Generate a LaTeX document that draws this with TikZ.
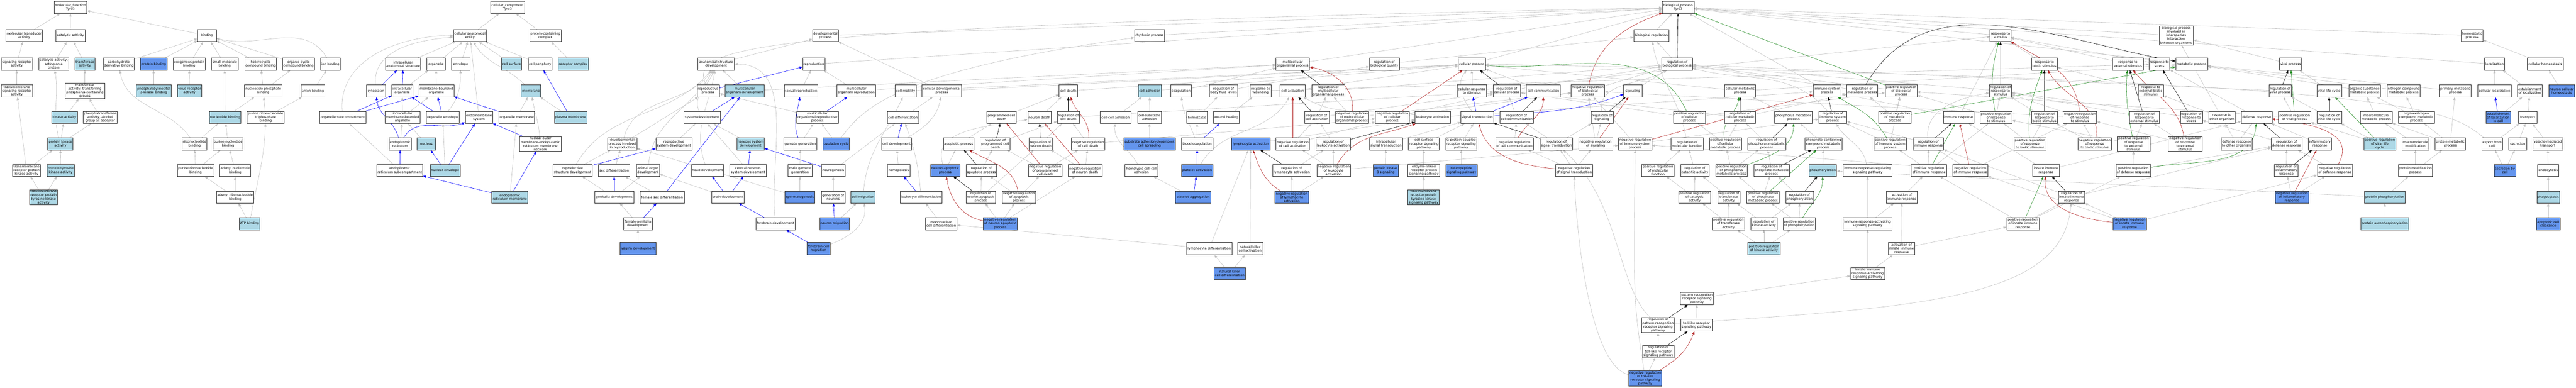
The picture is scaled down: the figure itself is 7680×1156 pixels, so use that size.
\documentclass[tikz,border=0pt]{standalone}
\usepackage{fontspec}
\setmainfont{DejaVu Sans}
\usetikzlibrary{arrows.meta}
\pgfdeclarelayer{bgw}
\pgfdeclarelayer{edges}
\pgfsetlayers{bgw,edges,main}
\definecolor{lblue}{HTML}{ADD8E6}
\definecolor{cblue}{HTML}{6495ED}
\definecolor{egray}{HTML}{C0C0C0}
\definecolor{ered}{HTML}{B22222}
\definecolor{egreen}{HTML}{228B22}
\tikzset{
 box/.style={draw=black!80, line width=0.9pt, rectangle, fill=white, minimum height=36pt,
   inner xsep=2pt, inner ysep=1.5pt, align=center, font=\fontsize{9.7}{11}\selectfont},
 lb/.style={fill=lblue}, cb/.style={fill=cblue},
 ge/.style={draw=egray, line width=0.9pt, -{Triangle[length=9pt,width=7pt]}},
 be/.style={ge, draw=blue},
 ke/.style={ge, draw=black},
 re/.style={ge, draw=ered},
 gre/.style={ge, draw=egreen}
}
\newcommand\nd[6][]{\node[box,#1,minimum width=#5pt] (#2) at (#3,-#4) {#6};}
\newcommand\Ed[3][ge]{\draw[#1] (#2) -- (#3);}
\begin{document}
\begin{tikzpicture}[x=1pt,y=1pt]
\begin{pgfonlayer}{bgw}
\fill[white] (0,0) rectangle (7680,-1156);
\end{pgfonlayer}
\useasboundingbox (0,0) rectangle (7680,-1156);
% ---------------- molecular function
\nd{mf}{210}{22}{98}{molecular\_function\\Tyro3}
\nd{mtrans}{72}{106}{109}{molecular transducer\\activity}
\nd{cat}{210}{106}{87}{catalytic activity}
\nd{binding}{617}{106}{56}{binding}
\nd{sigrec}{50}{191}{94}{signaling receptor\\activity}
\nd{catprot}{160}{191}{89}{catalytic activity,\\acting on a\\protein}
\nd[lb]{transf}{253}{191}{60}{transferase\\activity}
\nd{carb}{354}{191}{93}{carbohydrate\\derivative binding}
\nd[cb]{protbind}{458}{191}{79}{protein binding}
\nd{exoprot}{564}{191}{94}{exogenous protein\\binding}
\nd{smallmol}{670}{191}{80}{small molecule\\binding}
\nd{hetero}{777}{191}{95}{heterocyclic\\compound binding}
\nd{orgcyc}{890}{191}{95}{organic cyclic\\compound binding}
\nd{ion}{985}{191}{59}{ion binding}
\nd{tmsig}{50}{271}{94}{transmembrane\\signaling receptor\\activity}
\nd{transphos}{253}{271}{117}{transferase\\activity, transferring\\phosphorus-containing\\groups}
\nd[lb]{pi3k}{458}{271}{105}{phosphatidylinositol\\3-kinase binding}
\nd[lb]{virrec}{565}{271}{72}{virus receptor\\activity}
\nd{nucphos}{785}{271}{112}{nucleoside phosphate\\binding}
\nd{anion}{933}{271}{71}{anion binding}
\nd[lb]{kinase}{192}{350}{77}{kinase activity}
\nd{phostrans}{299}{350}{101}{phosphotransferase\\activity, alcohol\\group as acceptor}
\nd[lb]{nucbind}{671}{350}{95}{nucleotide binding}
\nd{purribtri}{792}{350}{111}{purine ribonucleoside\\triphosphate\\binding}
\nd[lb]{protkin}{180}{429}{75}{protein kinase\\activity}
\nd{ribonuc}{580}{429}{74}{ribonucleotide\\binding}
\nd{purnuc}{680}{429}{89}{purine nucleotide\\binding}
\nd{tmrpk}{79}{508}{83}{transmembrane\\receptor protein\\kinase activity}
\nd[lb]{ptk}{181}{508}{82}{protein tyrosine\\kinase activity}
\nd{purribonuc}{583}{508}{109}{purine ribonucleotide\\binding}
\nd{adenyl}{701}{508}{93}{adenyl nucleotide\\binding}
\nd[lb]{tmrptk}{130}{588}{83}{transmembrane\\receptor protein\\tyrosine kinase\\activity}
\nd{adenylribo}{701}{588}{109}{adenyl ribonucleotide\\binding}
\nd[lb]{atp}{744}{667}{62}{ATP binding}
% ---------------- cellular component
\nd{cc}{1513}{22}{101}{cellular\_component\\Tyro3}
\nd{cae}{1401}{106}{99}{cellular anatomical\\entity}
\nd{pcc}{1626}{106}{94}{protein-containing\\complex}
\nd{ias}{1202}{191}{105}{intracellular\\anatomical structure}
\nd{organelle}{1300}{191}{55}{organelle}
\nd{envelope}{1373}{191}{55}{envelope}
\nd[lb]{cellsurf}{1525}{191}{61}{cell surface}
\nd{cellperiph}{1610}{191}{71}{cell periphery}
\nd[lb]{reccomplex}{1709}{191}{91}{receptor complex}
\nd{cytoplasm}{1121}{271}{58}{cytoplasm}
\nd{intorg}{1199}{271}{63}{intracellular\\organelle}
\nd{mbo}{1301}{271}{105}{membrane-bounded\\organelle}
\nd[lb]{membrane}{1583}{271}{58}{membrane}
\nd{orgsub}{1022}{350}{138}{organelle subcompartment}
\nd{imbo}{1200}{350}{104}{intracellular\\membrane-bounded\\organelle}
\nd{orgenv}{1320}{350}{98}{organelle envelope}
\nd{endomem}{1428}{350}{82}{endomembrane\\system}
\nd{orgmem}{1541}{350}{106}{organelle membrane}
\nd[lb]{plasmamem}{1701}{350}{97}{plasma membrane}
\nd{er}{1193}{429}{66}{endoplasmic\\reticulum}
\nd[lb]{nucleus}{1271}{429}{55}{nucleus}
\nd{nomer}{1611}{429}{125}{nuclear outer\\membrane-endoplasmic\\reticulum membrane\\network}
\nd{ersub}{1192}{508}{136}{endoplasmic\\reticulum subcompartment}
\nd[lb]{nucenv}{1327}{508}{89}{nuclear envelope}
\nd[lb]{ermem}{1520}{588}{107}{endoplasmic\\reticulum membrane}
% ---------------- development
\nd{asd}{2135}{191}{109}{anatomical structure\\development}
\nd{reproproc}{2111}{271}{66}{reproductive\\process}
\nd[lb]{mcod}{2220}{271}{118}{multicellular\\organism development}
\nd{sysdev}{2093}{350}{108}{system development}
\nd{dpir}{1855}{429}{87}{developmental\\process involved\\in reproduction}
\nd{rsd}{2009}{429}{108}{reproductive\\system development}
\nd[lb]{nsd}{2238}{429}{82}{nervous system\\development}
\nd{reprostruct}{1707}{508}{117}{reproductive\\structure development}
\nd{sexdiff}{1831}{508}{94}{sex differentiation}
\nd{animalorgan}{1932}{508}{68}{animal organ\\development}
\nd{headdev}{2109}{508}{96}{head development}
\nd{cnsd}{2230}{508}{110}{central nervous\\system development}
\nd{genitalia}{1831}{588}{116}{genitalia development}
\nd{femsexdiff}{1974}{588}{131}{female sex differentiation}
\nd{braindev}{2170}{588}{98}{brain development}
\nd{femgen}{1902}{667}{85}{female genitalia\\development}
\nd[cb]{vagina}{1902}{741}{106}{vagina development}
\nd{forebrain}{2312}{667}{117}{forebrain development}
\nd{devproc}{2461}{106}{78}{developmental\\process}
\nd{reproduction}{2426}{191}{66}{reproduction}
\nd{sexrepro}{2388}{271}{101}{sexual reproduction}
\nd{mcorepro}{2553}{271}{115}{multicellular\\organism reproduction}
\nd{cellmot}{2700}{271}{62}{cell motility}
\nd{celldevproc}{2808}{271}{118}{cellular developmental\\process}
\nd{celldeath}{3185}{271}{55}{cell death}
\nd{mcorp}{2437}{350}{124}{multicellular\\organismal reproductive\\process}
\nd{celldiff}{2692}{350}{94}{cell differentiation}
\nd{pcd}{2986}{350}{88}{programmed cell\\death}
\nd{neurondeath}{3099}{350}{68}{neuron death}
\nd{regcelldeath}{3185}{350}{66}{regulation of\\cell death}
\nd{cellcelladh}{3326}{350}{91}{cell-cell adhesion}
\nd{gametegen}{2386}{429}{98}{gamete generation}
\nd[cb]{ovulation}{2493}{429}{78}{ovulation cycle}
\nd{celldev}{2673}{429}{89}{cell development}
\nd{apoptotic}{2858}{429}{90}{apoptotic process}
\nd{regpcd}{2967}{429}{89}{regulation of\\programmed cell\\death}
\nd{regneurondeath}{3102}{429}{68}{regulation of\\neuron death}
\nd{negregcelldeath}{3244}{429}{100}{negative regulation\\of cell death}
\nd{malegamete}{2385}{508}{71}{male gamete\\generation}
\nd{neurogenesis}{2484}{508}{70}{neurogenesis}
\nd{hemopoiesis}{2679}{508}{67}{hemopoiesis}
\nd[cb]{neuronapop}{2818}{508}{87}{neuron apoptotic\\process}
\nd{regapop}{2926}{508}{91}{regulation of\\apoptotic process}
\nd{negregpcd}{3116}{508}{100}{negative regulation\\of programmed\\cell death}
\nd{negregneurondeath}{3235}{508}{101}{negative regulation\\of neuron death}
\nd[cb]{spermato}{2385}{588}{89}{spermatogenesis}
\nd{genneurons}{2484}{588}{70}{generation of\\neurons}
\nd[lb]{cellmigr}{2573}{588}{72}{cell migration}
\nd{leukodiff}{2746}{588}{125}{leukocyte differentiation}
\nd{regneuronapop}{2924}{588}{87}{regulation of\\neuron apoptotic\\process}
\nd{negregapop}{3038}{588}{101}{negative regulation\\of apoptotic\\process}
\nd[cb]{neuronmigr}{2488}{667}{89}{neuron migration}
\nd{mononuc}{2806}{667}{95}{mononuclear\\cell differentiation}
\nd[cb]{negregneuronapop}{2982}{667}{101}{negative regulation\\of neuron apoptotic\\process}
\nd[cb]{forebraincell}{2440}{741}{69}{forebrain cell\\migration}
% ---------------- adhesion / activation / signaling
\nd{rhythmic}{3427}{106}{89}{rhythmic process}
\nd{mcop}{3854}{191}{100}{multicellular\\organismal process}
\nd{regbioqual}{4127}{191}{89}{regulation of\\biological quality}
\nd{cellproc}{4388}{191}{80}{cellular process}
\nd[lb]{celladh}{3428}{271}{69}{cell adhesion}
\nd{coag}{3521}{271}{62}{coagulation}
\nd{regbodyfluid}{3648}{271}{85}{regulation of\\body fluid levels}
\nd{respwound}{3758}{271}{63}{response to\\wounding}
\nd{cellact}{3854}{271}{75}{cell activation}
\nd{regmcop}{3960}{271}{99}{regulation of\\multicellular\\organismal process}
\nd{cellresp}{4388}{271}{88}{cellular response\\to stimulus}
\nd{cellsubadh}{3427}{350}{71}{cell-substrate\\adhesion}
\nd{hemostasis}{3569}{350}{61}{hemostasis}
\nd{woundheal}{3656}{350}{76}{wound healing}
\nd{regcellact}{3926}{350}{74}{regulation of\\cell activation}
\nd{negregmcop}{4031}{350}{99}{negative regulation\\of multicellular\\organismal process}
\nd{negregcellproc}{4151}{350}{101}{negative regulation\\of cellular\\process}
\nd{leukoact}{4271}{350}{105}{leukocyte activation}
\nd{sigtrans}{4404}{350}{97}{signal transduction}
\nd[cb]{substrate}{3427}{429}{154}{substrate adhesion-dependent\\cell spreading}
\nd{bloodcoag}{3569}{429}{93}{blood coagulation}
\nd[cb]{lymphact}{3729}{429}{115}{lymphocyte activation}
\nd{negregcellact}{3854}{429}{100}{negative regulation\\of cell activation}
\nd{regleukoact}{3975}{429}{103}{regulation of\\leukocyte activation}
\nd{intracellsig}{4132}{429}{98}{intracellular\\signal transduction}
\nd{csrsp}{4245}{429}{92}{cell surface\\receptor signaling\\pathway}
\nd{gpcr}{4356}{429}{92}{G protein-coupled\\receptor signaling\\pathway}
\nd{homotypic}{3403}{508}{98}{homotypic cell-cell\\adhesion}
\nd[cb]{plateletact}{3569}{508}{94}{platelet activation}
\nd{reglymphact}{3851}{508}{114}{regulation of\\lymphocyte activation}
\nd{negregleukoact}{3976}{508}{100}{negative regulation\\of leukocyte\\activation}
\nd[cb]{pkb}{4131}{508}{75}{protein kinase\\B signaling}
\nd{enzlinked}{4245}{508}{95}{enzyme-linked\\receptor protein\\signaling pathway}
\nd[cb]{neuropep}{4357}{508}{94}{neuropeptide\\signaling pathway}
\nd[cb]{plateletagg}{3557}{588}{105}{platelet aggregation}
\nd[cb]{negreglymphact}{3851}{588}{101}{negative regulation\\of lymphocyte\\activation}
\nd[lb]{tmrptksp}{4244}{588}{94}{transmembrane\\receptor protein\\tyrosine kinase\\signaling pathway}
\nd{lymphdiff}{3605}{741}{135}{lymphocyte differentiation}
\nd{nkact}{3727}{741}{75}{natural killer\\cell activation}
\nd[cb]{nkdiff}{3666}{815}{95}{natural killer\\cell differentiation}
% ---------------- regulation / metabolism
\nd{bp}{5003}{22}{94}{biological\_process\\Tyro3}
\nd{bioreg}{4923}{106}{105}{biological regulation}
\nd{regbp}{5000}{191}{92}{regulation of\\biological process}
\nd{regcellproc}{4492}{271}{81}{regulation of\\cellular process}
\nd{cellcomm}{4601}{271}{102}{cell communication}
\nd{negregbp}{4734}{271}{100}{negative regulation\\of biological\\process}
\nd{signaling}{4868}{271}{55}{signaling}
\nd{cellmetab}{5188}{271}{92}{cellular metabolic\\process}
\nd{immsys}{5447}{271}{84}{immune system\\process}
\nd{regmetab}{5552}{271}{92}{regulation of\\metabolic process}
\nd{regcellcomm}{4522}{350}{100}{regulation of\\cell communication}
\nd{regsig}{4776}{350}{66}{regulation of\\signaling}
\nd{posregcellproc}{5037}{350}{96}{positive regulation\\of cellular\\process}
\nd{regcellmetab}{5188}{350}{92}{regulation of\\cellular metabolic\\process}
\nd{phosmetab}{5347}{350}{112}{phosphorus metabolic\\process}
\nd{regimmsys}{5464}{350}{84}{regulation of\\immune system\\process}
\nd{negregcellcomm}{4515}{429}{112}{negative regulation\\of cell communication}
\nd{regsigtrans}{4640}{429}{98}{regulation of\\signal transduction}
\nd{negregsig}{4757}{429}{101}{negative regulation\\of signaling}
\nd{negregimmsys}{4875}{429}{100}{negative regulation\\of immune system\\process}
\nd{regmolfunc}{5030}{429}{97}{regulation of\\molecular function}
\nd{posregcellmetab}{5144}{429}{95}{positive regulation\\of cellular\\metabolic process}
\nd{regphosmetab}{5267}{429}{113}{regulation of\\phosphorus metabolic\\process}
\nd{phoscompmetab}{5436}{429}{110}{phosphate-containing\\compound metabolic\\process}
\nd{posregimmsys}{5635}{429}{96}{positive regulation\\of immune system\\process}
\nd{negregsigtrans}{4693}{508}{111}{negative regulation\\of signal transduction}
\nd{posregmolfunc}{4943}{508}{97}{positive regulation\\of molecular\\function}
\nd{regcatact}{5053}{508}{85}{regulation of\\catalytic activity}
\nd{posregphos}{5162}{508}{95}{positive regulation\\of phosphorus\\metabolic process}
\nd{regphosphate}{5282}{508}{106}{regulation of\\phosphate metabolic\\process}
\nd[lb]{phosphorylation}{5434}{508}{81}{phosphorylation}
\nd{irrsp}{5568}{508}{146}{immune response-regulating\\signaling pathway}
\nd{posregcatact}{5052}{588}{96}{positive regulation\\of catalytic\\activity}
\nd{regtransfact}{5154}{588}{66}{regulation of\\transferase\\activity}
\nd{posregphosphate}{5256}{588}{96}{positive regulation\\of phosphate\\metabolic process}
\nd{regphosphoryl}{5365}{588}{83}{regulation of\\phosphorylation}
\nd{posregtransf}{5153}{667}{97}{positive regulation\\of transferase\\activity}
\nd{regkinact}{5259}{667}{78}{regulation of\\kinase activity}
\nd{posregphosphoryl}{5364}{667}{96}{positive regulation\\of phosphorylation}
\nd{irasp}{5568}{667}{146}{immune response-activating\\signaling pathway}
\nd[lb]{posregkinact}{5259}{741}{96}{positive regulation\\of kinase activity}
\nd{innateirasp}{5568}{815}{102}{innate immune\\response-activating\\signaling pathway}
\nd{prrsp}{5059}{890}{98}{pattern recognition\\receptor signaling\\pathway}
\nd{regprr}{4943}{969}{99}{regulation of\\pattern recognition\\receptor signaling\\pathway}
\nd{tlr}{5058}{969}{94}{toll-like receptor\\signaling pathway}
\nd{regtlr}{4944}{1048}{94}{regulation of\\toll-like receptor\\signaling pathway}
\nd[cb]{negregtlr}{4905}{1128}{99}{negative regulation\\of toll-like\\receptor signaling\\pathway}
% ---------------- response
\nd{respstim}{5964}{106}{62}{response to\\stimulus}
\nd{bpinter}{6488}{106}{102}{biological process\\involved in\\interspecies\\interaction\\between organisms}
\nd{respbiotic}{6095}{191}{77}{response to\\biotic stimulus}
\nd{respext}{6344}{191}{91}{response to\\external stimulus}
\nd{respstress}{6438}{191}{62}{response to\\stress}
\nd{metab}{6534}{191}{95}{metabolic process}
\nd{posregbp}{5668}{271}{95}{positive regulation\\of biological\\process}
\nd{regrespstim}{5964}{271}{66}{regulation of\\response to\\stimulus}
\nd{respextbiotic}{6412}{271}{75}{response to\\external biotic\\stimulus}
\nd{posregmetab}{5649}{350}{96}{positive regulation\\of metabolic\\process}
\nd{immresp}{5839}{350}{91}{immune response}
\nd{posregrespstim}{5951}{350}{95}{positive regulation\\of response\\to stimulus}
\nd{regrespbiotic}{6095}{350}{77}{regulation of\\response to\\biotic stimulus}
\nd{negregrespstim}{6201}{350}{100}{negative regulation\\of response\\to stimulus}
\nd{regrespext}{6393}{350}{90}{regulation of\\response to\\external stimulus}
\nd{regrespstress}{6533}{350}{66}{regulation of\\response to\\stress}
\nd{resporg}{6624}{350}{78}{response to\\other organism}
\nd{regimmresp}{5749}{429}{91}{regulation of\\immune response}
\nd{posregrespbiotic}{6052}{429}{94}{positive regulation\\of response\\to biotic stimulus}
\nd{negregrespbiotic}{6245}{429}{99}{negative regulation\\of response\\to biotic stimulus}
\nd{posregrespext}{6361}{429}{97}{positive regulation\\of response\\to external\\stimulus}
\nd{negregrespext}{6515}{429}{101}{negative regulation\\of response\\to external\\stimulus}
\nd{defresporg}{6668}{429}{92}{defense response\\to other organism}
\nd{posregimmresp}{5751}{508}{106}{positive regulation\\of immune response}
\nd{negregimmresp}{5874}{508}{105}{negative regulation\\of immune response}
\nd{innateimm}{6100}{508}{79}{innate immune\\response}
\nd{posregdef}{6360}{508}{103}{positive regulation\\of defense response}
\nd{actimmresp}{5670}{588}{93}{activation of\\immune response}
\nd{reginnate}{6176}{588}{78}{regulation of\\innate immune\\response}
\nd{posreginnate}{6031}{667}{97}{positive regulation\\of innate immune\\response}
\nd[cb]{negreginnate}{6349}{667}{100}{negative regulation\\of innate immune\\response}
\nd{actinnate}{5669}{741}{78}{activation of\\innate immune\\response}
% ---------------- far right
\nd{homeostatic}{7370}{106}{65}{homeostatic\\process}
\nd{viralproc}{6829}{191}{66}{viral process}
\nd{localization}{7437}{191}{60}{localization}
\nd{cellhomeo}{7588}{191}{107}{cellular homeostasis}
\nd{regviral}{6798}{271}{66}{regulation of\\viral process}
\nd{virallife}{6944}{271}{74}{viral life cycle}
\nd{orgsubmetab}{7050}{271}{93}{organic substance\\metabolic process}
\nd{nitrogen}{7166}{271}{98}{nitrogen compound\\metabolic process}
\nd{primmetab}{7320}{271}{95}{primary metabolic\\process}
\nd{cellloc}{7437}{271}{100}{cellular localization}
\nd{estloc}{7542}{271}{75}{establishment\\of localization}
\nd[cb]{neuronhomeo}{7637}{271}{76}{neuron cellular\\homeostasis}
\nd{defresp}{6728}{350}{91}{defense response}
\nd{posregviral}{6841}{350}{96}{positive regulation\\of viral process}
\nd{regvirallife}{6944}{350}{74}{regulation of\\viral life cycle}
\nd{macromet}{7084}{350}{95}{macromolecule\\metabolic process}
\nd{organonitro}{7204}{350}{107}{organonitrogen\\compound metabolic\\process}
\nd[cb]{estlocincell}{7448}{350}{74}{establishment\\of localization\\in cell}
\nd{transport}{7536}{350}{55}{transport}
\nd{regdefresp}{6817}{429}{91}{regulation of\\defense response}
\nd{inflam}{6916}{429}{70}{inflammatory\\response}
\nd[lb]{posregvirallife}{7095}{429}{96}{positive regulation\\of viral life\\cycle}
\nd{macromod}{7201}{429}{80}{macromolecule\\modification}
\nd{protmetab}{7305}{429}{91}{protein metabolic\\process}
\nd{exportcell}{7430}{429}{62}{export from\\cell}
\nd{secretion}{7506}{429}{55}{secretion}
\nd{vesicle}{7596}{429}{89}{vesicle-mediated\\transport}
\nd{reginflam}{6816}{508}{70}{regulation of\\inflammatory\\response}
\nd{negregdef}{6961}{508}{104}{negative regulation\\of defense response}
\nd{protmod}{7201}{508}{102}{protein modification\\process}
\nd[cb]{secretionbycell}{7468}{508}{65}{secretion by\\cell}
\nd{endocytosis}{7597}{508}{63}{endocytosis}
\nd[cb]{negreginflam}{6833}{588}{99}{negative regulation\\of inflammatory\\response}
\nd[lb]{protphos}{7110}{588}{121}{protein phosphorylation}
\nd[lb]{phagocytosis}{7597}{588}{68}{phagocytosis}
\nd[lb]{protautophos}{7110}{667}{143}{protein autophosphorylation}
\nd[cb]{apopclear}{7597}{667}{70}{apoptotic cell\\clearance}

\begin{pgfonlayer}{edges}
% MF
\Ed{mtrans}{mf}\Ed{cat}{mf}\Ed{binding}{mf}
\Ed{sigrec}{mtrans}\Ed{catprot}{cat}\Ed{transf}{cat}
\Ed{carb}{binding}\Ed{protbind}{binding}\Ed{exoprot}{binding}\Ed{smallmol}{binding}
\Ed{hetero}{binding}\Ed{orgcyc}{binding}
\draw[ge] (ion) to[out=120,in=-15] (binding);
\Ed{tmsig}{sigrec}\Ed{transphos}{transf}\Ed{pi3k}{protbind}\Ed{virrec}{exoprot}
\Ed{nucphos}{hetero}\Ed{nucphos}{orgcyc}\Ed{anion}{ion}
\Ed{kinase}{transphos}\Ed{phostrans}{transphos}\Ed{nucbind}{smallmol}\Ed{nucbind}{nucphos}
\Ed{purribtri}{nucphos}\Ed{purribtri}{anion}
\Ed{protkin}{kinase}\Ed{protkin}{phostrans}
\draw[ge] (protkin) to[out=105,in=-80] (catprot);
\Ed{ribonuc}{nucbind}
\draw[ge] (ribonuc) to[out=125,in=-80] (carb);
\Ed{purnuc}{nucbind}
\Ed{tmrpk}{protkin}\Ed{tmrpk}{tmsig}\Ed{ptk}{protkin}
\Ed{purribonuc}{ribonuc}\Ed{purribonuc}{purnuc}\Ed{adenyl}{purnuc}
\Ed{tmrptk}{tmrpk}\Ed{tmrptk}{ptk}
\Ed{adenylribo}{purribonuc}\Ed{adenylribo}{adenyl}
\Ed{atp}{adenylribo}
\draw[ge] (atp) to[out=80,in=-92] (purribtri);
% CC
\Ed{cae}{cc}\Ed{pcc}{cc}
\Ed{ias}{cae}\Ed{organelle}{cae}\Ed{envelope}{cae}\Ed{cellsurf}{cae}\Ed{cellperiph}{cae}
\draw[ge] (membrane) to[out=135,in=-60] (cae);
\Ed{endomem}{cae}
\draw[ge] (cytoplasm) to[out=95,in=185] (cae);
\draw[ge] (orgsub) to[out=95,in=180] (cae);
\Ed{reccomplex}{pcc}
\Ed[be]{cytoplasm}{ias}\Ed[be]{intorg}{ias}\Ed{intorg}{organelle}\Ed{mbo}{organelle}
\Ed{plasmamem}{membrane}\Ed[be]{plasmamem}{cellperiph}
\Ed[be]{orgsub}{intorg}\Ed[be]{orgsub}{mbo}
\Ed{imbo}{intorg}\Ed{imbo}{mbo}
\Ed[be]{orgenv}{intorg}\Ed[be]{orgenv}{mbo}
\draw[ge] (orgenv) to[out=50,in=-90] (envelope);
\Ed[be]{orgmem}{mbo}\Ed{orgmem}{membrane}
\Ed{er}{imbo}
\draw[be] (er) to[out=105,in=-85] (cytoplasm);
\draw[be] (er) to[out=60,in=200] (endomem);
\Ed{nucleus}{imbo}
\draw[ge] (nomer) to[out=95,in=-80] (membrane);
\Ed[be]{nomer}{endomem}
\Ed[be]{ersub}{er}\Ed{ersub}{orgsub}
\Ed[be]{nucenv}{nucleus}\Ed[be]{nucenv}{endomem}\Ed{nucenv}{orgenv}
\Ed[be]{ermem}{ersub}\Ed[be]{ermem}{nomer}\Ed{ermem}{orgmem}
% development
\Ed{asd}{devproc}
\Ed[be]{reproproc}{reproduction}
\draw[ge] (reproproc) .. controls (2060,-140) and (2160,-80) .. (bp);
\Ed{mcod}{asd}\Ed{mcod}{mcop}
\Ed[be]{sysdev}{mcod}
\draw[ge] (sysdev) to[out=115,in=-110] (asd);
\Ed{dpir}{reproproc}
\draw[ge] (dpir) to[out=75,in=-125] (asd);
\Ed{rsd}{sysdev}\Ed{nsd}{sysdev}
\Ed{reprostruct}{dpir}\Ed[be]{reprostruct}{rsd}
\draw[ge] (reprostruct) to[out=60,in=-130] (asd);
\Ed{sexdiff}{dpir}
\draw[ge] (animalorgan) to[out=85,in=-118] (asd);
\draw[ge] (headdev) to[out=110,in=-100] (asd);
\Ed[be]{cnsd}{nsd}\Ed{cnsd}{sysdev}
\Ed[be]{genitalia}{sexdiff}\Ed{genitalia}{reprostruct}\Ed{genitalia}{animalorgan}
\Ed{femsexdiff}{sexdiff}\Ed[be]{femsexdiff}{mcod}
\Ed[be]{braindev}{headdev}\Ed[be]{braindev}{cnsd}\Ed{braindev}{animalorgan}
\Ed{femgen}{genitalia}\Ed[be]{femgen}{femsexdiff}
\Ed{vagina}{femgen}
\Ed[be]{forebrain}{braindev}
\draw[ge] (forebrain) to[out=95,in=0] (asd);
\Ed{spermato}{dpir}
\Ed[be]{neurogenesis}{nsd}
\Ed{devproc}{bp}\Ed{reproduction}{bp}
\Ed{sexrepro}{reproduction}
\draw[be] (gametegen) to[out=110,in=-100] (sexrepro);
\Ed{mcorepro}{reproduction}\Ed{mcorepro}{mcop}
\Ed{cellmot}{cellproc}\Ed{celldevproc}{devproc}\Ed{celldevproc}{cellproc}\Ed{celldeath}{cellproc}
\Ed[be]{mcorp}{mcorepro}\Ed{mcorp}{reproproc}
\Ed{gametegen}{mcorp}\Ed{ovulation}{mcorp}
\draw[ge] (ovulation) .. controls (2570,-330) and (2650,-215) .. (rhythmic);
\Ed{celldiff}{celldevproc}
\Ed[be]{celldev}{celldiff}
\draw[ge] (celldev) to[out=30,in=-100] (celldevproc);
\Ed{neurogenesis}{celldiff}
\Ed{malegamete}{gametegen}
\Ed{hemopoiesis}{celldev}
\Ed{neuronapop}{apoptotic}
\draw[ge] (neuronapop) to[out=110,in=190] (neurondeath);
\Ed[ke]{regapop}{apoptotic}\Ed{regapop}{regpcd}
\Ed{negregpcd}{regpcd}\Ed[re]{negregpcd}{pcd}\Ed{negregpcd}{negregcelldeath}
\Ed{negregneurondeath}{regneurondeath}\Ed[re]{negregneurondeath}{neurondeath}\Ed{negregneurondeath}{negregcelldeath}
\Ed[ke]{regneurondeath}{neurondeath}\Ed{regneurondeath}{regcelldeath}
\Ed[ke]{regpcd}{pcd}\Ed{regpcd}{regcelldeath}
\draw[re] (negregcelldeath) to[out=85,in=-70] (celldeath);
\Ed{negregcelldeath}{regcelldeath}\Ed{negregcelldeath}{negregcellproc}
\Ed[ke]{regcelldeath}{celldeath}\Ed{regcelldeath}{regcellproc}
\Ed{pcd}{celldeath}\Ed{neurondeath}{celldeath}
\Ed{apoptotic}{pcd}
\Ed[ke]{regneuronapop}{neuronapop}\Ed{regneuronapop}{regapop}\Ed{regneuronapop}{regneurondeath}
\draw[re] (negregapop) to[out=100,in=-30] (apoptotic);
\Ed{negregapop}{regapop}\Ed{negregapop}{negregpcd}
\draw[re] (negregneuronapop) to[out=170,in=-80] (neuronapop);
\Ed{negregneuronapop}{regneuronapop}\Ed{negregneuronapop}{negregapop}\Ed{negregneuronapop}{negregneurondeath}
\Ed{spermato}{malegamete}
\Ed{genneurons}{neurogenesis}
\Ed[be]{neuronmigr}{genneurons}\Ed{neuronmigr}{cellmigr}
\draw[ge] (cellmigr) to[out=85,in=-115] (cellmot);
\Ed[be]{leukodiff}{hemopoiesis}
\draw[ge] (leukodiff) to[out=95,in=-70] (celldiff);
\Ed{mononuc}{leukodiff}
\Ed[be]{forebraincell}{forebrain}
\draw[ge] (forebraincell) to[out=20,in=-80] (cellmigr);
\Ed{lymphdiff}{mononuc}
\Ed{cellcelladh}{celladh}
\draw[ge] (homotypic) to[out=120,in=-95] (cellcelladh);
% adhesion / activation / signaling
\Ed{rhythmic}{bp}\Ed{mcop}{bp}\Ed{regbioqual}{bioreg}\Ed{cellproc}{bp}
\Ed{celladh}{cellproc}\Ed{coag}{mcop}\Ed{regbodyfluid}{regbioqual}\Ed{respwound}{respstress}\Ed{cellact}{cellproc}
\Ed[ke]{regmcop}{mcop}\Ed{regmcop}{regbp}
\Ed{cellresp}{cellproc}\Ed{cellresp}{respstim}
\Ed{cellsubadh}{celladh}\Ed{hemostasis}{regbodyfluid}\Ed{woundheal}{respwound}
\Ed[ke]{regcellact}{cellact}\Ed{regcellact}{regcellproc}\Ed{regcellact}{regmcop}
\Ed{negregmcop}{regmcop}
\draw[re] (negregmcop) to[out=85,in=-10] (mcop);
\Ed{negregmcop}{negregbp}
\Ed[re]{negregcellproc}{cellproc}\Ed{negregcellproc}{regcellproc}\Ed{negregcellproc}{negregbp}
\draw[ge] (leukoact) to[out=170,in=-30] (cellact);
\Ed{leukoact}{immsys}
\Ed[be]{sigtrans}{cellresp}\Ed[be]{sigtrans}{cellcomm}
\draw[be] (sigtrans) to[out=5,in=-160] (signaling);
\draw[ge] (sigtrans) to[out=130,in=-130] (cellproc);
\Ed{substrate}{cellsubadh}
\draw[ge] (bloodcoag) to[out=110,in=-85] (coag);
\Ed{bloodcoag}{hemostasis}\Ed[be]{bloodcoag}{woundheal}
\Ed{lymphact}{leukoact}
\Ed{negregcellact}{regcellact}\Ed[re]{negregcellact}{cellact}\Ed{negregcellact}{negregcellproc}
\Ed{regleukoact}{regcellact}\Ed[ke]{regleukoact}{leukoact}
\Ed{intracellsig}{sigtrans}\Ed{csrsp}{sigtrans}\Ed{gpcr}{sigtrans}
\Ed[be]{plateletact}{bloodcoag}
\draw[ge] (plateletact) to[out=60,in=-120] (cellact);
\Ed[ke]{reglymphact}{lymphact}\Ed{reglymphact}{regleukoact}
\Ed{negregleukoact}{regleukoact}
\draw[re] (negregleukoact) to[out=60,in=-160] (leukoact);
\Ed{negregleukoact}{negregcellact}\Ed{negregleukoact}{negregimmsys}
\Ed{pkb}{intracellsig}\Ed{enzlinked}{csrsp}\Ed{neuropep}{gpcr}
\Ed[be]{plateletagg}{plateletact}\Ed{plateletagg}{homotypic}
\draw[re] (negreglymphact) to[out=150,in=-70] (lymphact);
\Ed{negreglymphact}{reglymphact}\Ed{negreglymphact}{negregleukoact}
\Ed{tmrptksp}{enzlinked}
\Ed{lymphdiff}{lymphact}\Ed{nkact}{lymphact}
\Ed{nkdiff}{lymphdiff}\Ed{nkdiff}{nkact}
\draw[re] (negregsigtrans) to[out=175,in=-75] (sigtrans);
\draw[gre] (posregcellproc) to[out=115,in=-5] (cellproc);
\Ed[ke]{regcellproc}{cellproc}
\Ed[ke]{regsigtrans}{sigtrans}
% regulation
\Ed{bioreg}{bp}\Ed[ke]{regbp}{bp}\Ed{regbp}{bioreg}
\draw[re] (negregbp) to[out=80,in=200] (bp);
\Ed{negregbp}{regbp}
\Ed[gre]{posregbp}{bp}
\Ed{regcellproc}{regbp}\Ed{cellcomm}{cellproc}\Ed{signaling}{regbp}
\Ed{cellmetab}{cellproc}\Ed{cellmetab}{metab}\Ed{immsys}{bp}
\Ed{regmetab}{regbp}
\draw[ke] (regmetab) to[out=60,in=170] (metab);
\Ed[ke]{regcellcomm}{cellcomm}\Ed{regcellcomm}{regcellproc}
\Ed[ke]{regsig}{signaling}
\draw[ge] (regsig) to[out=95,in=-150] (regbp);
\Ed{posregcellproc}{regcellproc}\Ed{posregcellproc}{posregbp}
\Ed[ke]{regcellmetab}{cellmetab}\Ed{regcellmetab}{regmetab}\Ed{regcellmetab}{regcellproc}
\Ed{phosmetab}{cellmetab}
\Ed[ke]{regimmsys}{immsys}
\draw[ge] (regimmsys) to[out=130,in=-15] (regbp);
\Ed{negregcellcomm}{regcellcomm}
\draw[re] (negregcellcomm) to[out=60,in=-90] (cellcomm);
\Ed{regsigtrans}{regcellcomm}\Ed{regsigtrans}{regsig}
\Ed{negregsig}{regsig}\Ed[re]{negregsig}{signaling}\Ed{negregsig}{negregbp}
\Ed{negregimmsys}{regimmsys}\Ed[re]{negregimmsys}{immsys}\Ed{negregimmsys}{negregbp}
\draw[ge] (regmolfunc) to[out=100,in=-80] (bioreg);
\draw[gre] (posregcellmetab) to[out=100,in=-100] (cellmetab);
\Ed{posregcellmetab}{regcellmetab}\Ed{posregcellmetab}{posregcellproc}
\Ed[ke]{regphosmetab}{phosmetab}\Ed{regphosmetab}{regcellmetab}
\Ed{phoscompmetab}{phosmetab}
\Ed{negregsigtrans}{regsigtrans}\Ed{negregsigtrans}{negregsig}\Ed{negregsigtrans}{negregcellcomm}
\Ed{posregmolfunc}{regmolfunc}\Ed{regcatact}{regmolfunc}
\Ed{posregphos}{posregcellmetab}\Ed{posregphos}{regphosmetab}
\draw[gre] (posregphos) to[out=20,in=-90] (phosmetab);
\Ed{regphosphate}{regphosmetab}\Ed[ke]{regphosphate}{phoscompmetab}
\Ed{phosphorylation}{phoscompmetab}
\draw[ge] (irrsp) to[out=100,in=-60] (regimmsys);
\Ed{posregcatact}{regcatact}\Ed{posregcatact}{posregmolfunc}
\Ed{regtransfact}{regcatact}
\Ed{posregphosphate}{posregphos}\Ed{posregphosphate}{regphosphate}\Ed[gre]{posregphosphate}{phoscompmetab}
\Ed[ke]{regphosphoryl}{phosphorylation}\Ed{regphosphoryl}{regphosphate}
\Ed{posregtransf}{posregcatact}\Ed{posregtransf}{regtransfact}
\Ed{regkinact}{regtransfact}\Ed{regkinact}{regphosphoryl}
\Ed{posregphosphoryl}{regphosphoryl}\Ed{posregphosphoryl}{posregphosphate}
\draw[gre] (posregphosphoryl) to[out=60,in=-90] (phosphorylation);
\Ed{posregkinact}{posregtransf}\Ed{posregkinact}{regkinact}\Ed{posregkinact}{posregphosphoryl}
\Ed{irasp}{irrsp}\Ed{innateirasp}{irasp}
\Ed{prrsp}{innateirasp}
\Ed[ke]{regprr}{prrsp}
\draw[ge] (regprr) .. controls (4820,-850) and (4830,-600) .. (regsigtrans);
\draw[ge] (regprr) .. controls (5700,-915) and (6150,-900) .. (reginnate);
\Ed{tlr}{prrsp}
\Ed{regtlr}{regprr}\Ed[ke]{regtlr}{tlr}
\Ed{negregtlr}{regtlr}
\draw[re] (negregtlr) to[out=30,in=-110] (tlr);
\draw[ge] (negregtlr) .. controls (4740,-1090) and (4700,-700) .. (negregsigtrans);
\draw[ge] (negregtlr) .. controls (4870,-900) .. (negregimmsys);
% response
\Ed{respstim}{bp}\Ed{bpinter}{bp}\Ed{metab}{bp}
\Ed{respbiotic}{respstim}\Ed{respext}{respstim}\Ed{respstress}{respstim}
\Ed{posregbp}{regbp}
\Ed[ke]{regrespstim}{respstim}\Ed{regrespstim}{regbp}
\Ed{respextbiotic}{respbiotic}\Ed{respextbiotic}{respext}
\Ed{posregmetab}{regmetab}\Ed{posregmetab}{posregbp}\Ed[gre]{posregmetab}{metab}
\Ed{immresp}{respstim}\Ed{immresp}{immsys}
\Ed{posregrespstim}{regrespstim}
\draw[gre] (posregrespstim) to[out=100,in=-105] (respstim);
\Ed{posregrespstim}{posregbp}
\Ed[ke]{regrespbiotic}{respbiotic}\Ed{regrespbiotic}{regrespstim}
\Ed{negregrespstim}{regrespstim}
\draw[re] (negregrespstim) to[out=95,in=-30] (respstim);
\Ed{negregrespstim}{negregbp}
\Ed[ke]{regrespext}{respext}\Ed{regrespext}{regrespstim}
\Ed[ke]{regrespstress}{respstress}\Ed{regrespstress}{regrespstim}
\Ed{resporg}{respextbiotic}\Ed{resporg}{bpinter}
\Ed[ke]{regimmresp}{immresp}\Ed{regimmresp}{regimmsys}
\draw[ge] (regimmresp) to[out=95,in=190] (regrespstim);
\Ed{posregrespbiotic}{regrespbiotic}
\draw[gre] (posregrespbiotic) to[out=95,in=-110] (respbiotic);
\Ed{posregrespbiotic}{posregrespstim}
\Ed{negregrespbiotic}{regrespbiotic}
\draw[re] (negregrespbiotic) to[out=80,in=-60] (respbiotic);
\Ed{negregrespbiotic}{negregrespstim}
\Ed{posregrespext}{regrespext}
\draw[gre] (posregrespext) to[out=100,in=-95] (respext);
\Ed{posregrespext}{posregrespstim}
\Ed{negregrespext}{regrespext}
\draw[re] (negregrespext) to[out=100,in=-50] (respext);
\Ed{negregrespext}{negregrespstim}
\Ed{defresporg}{resporg}\Ed{defresporg}{defresp}
\Ed{posregimmresp}{regimmresp}\Ed[gre]{posregimmresp}{immresp}\Ed{posregimmresp}{posregimmsys}\Ed{posregimmresp}{posregrespstim}
\Ed{negregimmresp}{regimmresp}\Ed[re]{negregimmresp}{immresp}\Ed{negregimmresp}{negregimmsys}\Ed{negregimmresp}{negregrespstim}
\Ed{innateimm}{immresp}\Ed{innateimm}{defresp}
\Ed{posregdef}{regdefresp}
\draw[gre] (posregdef) to[out=10,in=-95] (defresp);
\Ed{posregdef}{posregrespext}
\Ed{actimmresp}{posregimmresp}
\Ed[ke]{reginnate}{innateimm}\Ed{reginnate}{regimmresp}\Ed{reginnate}{regdefresp}
\Ed[gre]{posreginnate}{innateimm}\Ed{posreginnate}{reginnate}\Ed{posreginnate}{posregimmresp}\Ed{posreginnate}{posregdef}
\draw[re] (negreginnate) to[out=175,in=-95] (innateimm);
\Ed{negreginnate}{reginnate}\Ed{negreginnate}{negregimmresp}\Ed{negreginnate}{negregdef}
\Ed{actinnate}{actimmresp}\Ed{actinnate}{posreginnate}
\Ed{innateirasp}{actinnate}\Ed{irasp}{actimmresp}
\Ed{posregimmsys}{regimmsys}
\draw[gre] (posregimmsys) to[out=120,in=-30] (immsys);
\Ed{posregimmsys}{posregbp}
% far right
\Ed{homeostatic}{bp}\Ed{viralproc}{bpinter}\Ed{localization}{bp}\Ed{cellhomeo}{homeostatic}
\Ed[ke]{regviral}{viralproc}\Ed{regviral}{regbp}
\Ed{virallife}{viralproc}
\Ed{orgsubmetab}{metab}\Ed{nitrogen}{metab}\Ed{primmetab}{metab}
\Ed{cellloc}{localization}\Ed{estloc}{localization}\Ed{neuronhomeo}{cellhomeo}
\Ed{defresp}{respstress}
\Ed{posregviral}{regviral}\Ed[gre]{posregviral}{viralproc}\Ed{posregviral}{posregbp}
\Ed[ke]{regvirallife}{virallife}\Ed{regvirallife}{regviral}
\Ed{macromet}{orgsubmetab}
\Ed{organonitro}{nitrogen}\Ed{organonitro}{orgsubmetab}
\Ed[be]{estlocincell}{cellloc}\Ed{estlocincell}{estloc}
\Ed{transport}{estloc}
\Ed[ke]{regdefresp}{defresp}\Ed{regdefresp}{regrespstress}
\Ed{inflam}{defresp}
\Ed{posregvirallife}{regvirallife}\Ed[gre]{posregvirallife}{virallife}\Ed{posregvirallife}{posregviral}
\Ed{macromod}{macromet}
\Ed{protmetab}{macromet}\Ed{protmetab}{organonitro}\Ed{protmetab}{primmetab}
\Ed{exportcell}{transport}\Ed{secretion}{transport}\Ed{vesicle}{transport}
\draw[ge] (exportcell) .. controls (7300,-330) and (7250,-240) .. (cellproc);
\Ed[ke]{reginflam}{inflam}\Ed{reginflam}{regdefresp}
\Ed{negregdef}{regdefresp}
\draw[re] (negregdef) .. controls (7010,-420) and (6960,-375) .. (defresp);
\Ed{protmod}{macromod}\Ed{protmod}{protmetab}
\Ed{secretionbycell}{exportcell}\Ed{secretionbycell}{secretion}
\Ed{endocytosis}{vesicle}
\Ed{negreginflam}{reginflam}\Ed[re]{negreginflam}{inflam}\Ed{negreginflam}{negregdef}
\Ed{protphos}{protmod}\Ed{protphos}{phosphorylation}
\Ed{phagocytosis}{endocytosis}\Ed{protautophos}{protphos}\Ed{apopclear}{phagocytosis}
\end{pgfonlayer}
\end{tikzpicture}
\end{document}
